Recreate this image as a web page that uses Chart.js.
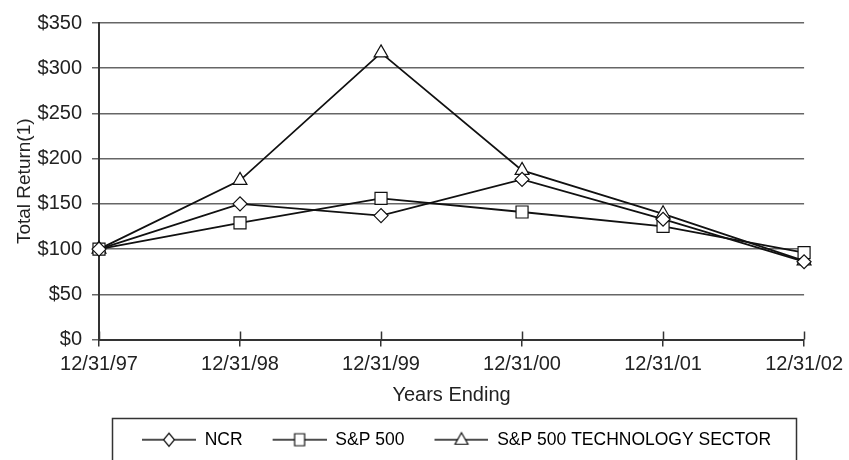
<!DOCTYPE html>
<html>
<head>
<meta charset="utf-8">
<script src="https://cdn.jsdelivr.net/npm/chart.js@4/dist/chart.umd.min.js"></script>
<style>
html,body{margin:0;padding:0;background:#fff;}
#wrap{width:849px;height:460px;}
</style>
</head>
<body>
<div id="wrap"><canvas id="c" width="849" height="460"></canvas></div>
<script>
// ---- data ----
const years = ['12/31/97', '12/31/98', '12/31/99', '12/31/00', '12/31/01', '12/31/02'];
const ncr = [100, 150, 137, 177, 133, 86];
const sp500 = [100, 129, 156, 141, 125, 96];
const techSector = [100, 176, 317, 187, 139, 87];
const seriesNames = ['NCR', 'S&P 500', 'S&P 500 TECHNOLOGY SECTOR'];
const seriesMarkers = ['rectRot', 'rect', 'triangle'];
const yTickValues = [0, 50, 100, 150, 200, 250, 300, 350];
const yTitle = 'Total Return(1)';
const xTitle = 'Years Ending';

const FONT = "'Liberation Sans', Arial, Helvetica, sans-serif";
const INK = '#111';

function legendIcon(style) {
  const w = 64, h = 18, lead = 10;
  const c = document.createElement('canvas');
  c.width = w; c.height = h;
  const g = c.getContext('2d');
  const cy = 9, cx = lead + (w - lead) / 2;
  g.strokeStyle = INK; g.lineWidth = 1.5;
  g.beginPath(); g.moveTo(lead, cy); g.lineTo(w, cy); g.stroke();
  g.fillStyle = '#fff'; g.lineWidth = 1.2;
  g.beginPath();
  if (style === 'rectRot') {
    g.moveTo(cx, cy - 6.5); g.lineTo(cx + 5.5, cy); g.lineTo(cx, cy + 6.5); g.lineTo(cx - 5.5, cy); g.closePath();
  } else if (style === 'rect') {
    g.rect(cx - 5, cy - 6, 10, 12);
  } else {
    g.moveTo(cx, cy - 7); g.lineTo(cx + 6.5, cy + 4.5); g.lineTo(cx - 6.5, cy + 4.5); g.closePath();
  }
  g.fill(); g.stroke();
  return c;
}
const icons = seriesMarkers.map(legendIcon);

const seriesData = [ncr, sp500, techSector];
const radii = [7, 8.5, 8];
const datasets = seriesNames.map((name, i) => ({
  label: name,
  data: seriesData[i],
  borderColor: INK,
  borderWidth: 1.8,
  pointStyle: seriesMarkers[i],
  pointRadius: radii[i],
  pointBackgroundColor: '#fff',
  pointBorderColor: INK,
  pointBorderWidth: 1.2,
  tension: 0,
  fill: false
}));

const decor = {
  id: 'decor',
  afterDraw(chart) {
    const ctx = chart.ctx;
    const xs = chart.scales.x;
    const ca = chart.chartArea;
    ctx.save();
    ctx.strokeStyle = '#333';
    ctx.lineWidth = 1.5;
    xs.ticks.forEach((t, i) => {
      const px = Math.round(xs.getPixelForTick(i)) + 0.5;
      ctx.beginPath(); ctx.moveTo(px, ca.bottom); ctx.lineTo(px, ca.bottom - 8); ctx.stroke();
    });
    const lg = chart.legend;
    if (lg && lg.legendHitBoxes && lg.legendHitBoxes.length) {
      const hb = lg.legendHitBoxes;
      const l = hb[0].left - 20;
      const last = hb[hb.length - 1];
      const r = last.left + last.width + 25;
      const cy = hb[0].top + hb[0].height / 2;
      ctx.strokeStyle = '#333';
      ctx.lineWidth = 1.5;
      ctx.strokeRect(Math.round(l) + 0.5, Math.round(cy - 22) + 0.5, Math.round(r - l), 60);
    }
    ctx.restore();
  }
};

new Chart(document.getElementById('c'), {
  type: 'line',
  data: { labels: years, datasets },
  plugins: [decor],
  options: {
    responsive: false,
    animation: false,
    devicePixelRatio: 1,
    layout: { padding: { top: 23, right: 44, left: 0, bottom: 1.5 } },
    plugins: {
      tooltip: { enabled: false },
      legend: {
        position: 'bottom',
        fullSize: false,
        labels: {
          usePointStyle: true,
          pointStyleWidth: 64,
          padding: 20,
          color: '#222',
          font: { family: FONT, size: 17.5 },
          generateLabels(chart) {
            return chart.data.datasets.map((d, i) => ({
              text: d.label,
              pointStyle: icons[i],
              datasetIndex: i,
              fillStyle: '#fff',
              strokeStyle: INK,
              lineWidth: 0,
              hidden: false
            }));
          }
        }
      }
    },
    scales: {
      x: {
        type: 'category',
        offset: false,
        grid: { drawOnChartArea: false, drawTicks: true, tickLength: 7, color: '#333', lineWidth: 1.5 },
        border: { display: true, color: '#333', width: 2 },
        ticks: { color: '#222', padding: 6, maxRotation: 0, autoSkip: false, font: { family: FONT, size: 20 } },
        title: { display: true, text: xTitle, color: '#222', font: { family: FONT, size: 20 }, padding: { top: 0, bottom: 4 } },
        afterFit(s) { s.height = 71.5; }
      },
      y: {
        min: 0,
        max: 350,
        afterBuildTicks(s) { s.ticks = yTickValues.map(v => ({ value: v })); },
        grid: { color: '#666', lineWidth: 1.5, tickLength: 7 },
        border: { display: true, color: '#333', width: 2 },
        ticks: { color: '#222', padding: 10, font: { family: FONT, size: 20 }, callback: v => '$' + v },
        title: { display: true, text: yTitle, color: '#222', font: { family: FONT, size: 19 }, padding: { top: 13, bottom: 0 } },
        afterFit(s) { s.width = 99; }
      }
    }
  }
});
</script>
</body>
</html>
